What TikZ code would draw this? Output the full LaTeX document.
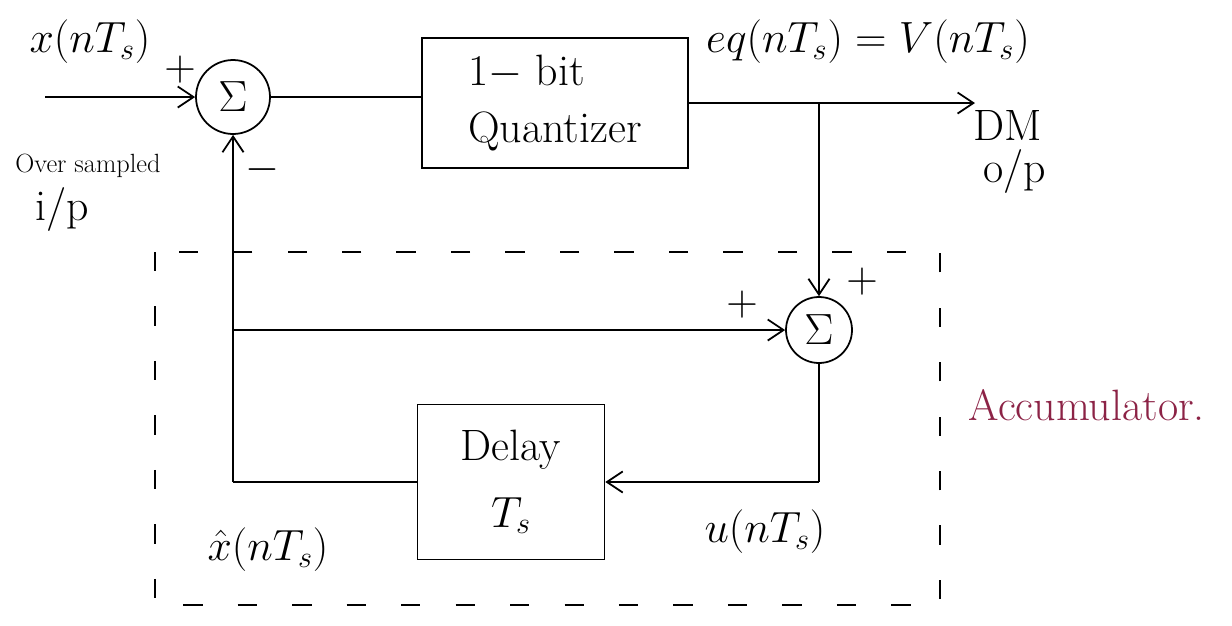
\documentclass[tikz,border=0pt]{standalone}
\usetikzlibrary{arrows.meta}
\definecolor{acccolor}{RGB}{140,35,70}
\begin{document}
\begin{tikzpicture}[x=0.02cm,y=-0.02cm, line width=1pt,
  sumnode/.style={draw,circle,minimum size=1.48cm,inner sep=0pt,font=\fontsize{24}{28}\selectfont},
  blocknode/.style={draw,rectangle,line width=1pt,font=\fontsize{25}{32}\selectfont},
  lbl/.style={font=\fontsize{25}{30}\selectfont},
  small/.style={font=\fontsize{15}{18}\selectfont},
  arr/.style={-{Straight Barb[length=9pt,width=12pt]}},
  accline/.style={dash pattern=on 11pt off 20pt,line width=0.9pt}]
\useasboundingbox (0,0) rectangle (1232,626);
% blocks
\node[sumnode] (s1) at (233,97) {$\Sigma$};
\node[blocknode,minimum width=5.32cm,minimum height=2.6cm,align=left] (q) at (555,103) {1$-$ bit\\Quantizer};
\node[sumnode,minimum size=1.32cm] (s2) at (819,330) {$\Sigma$};
\node[blocknode,minimum width=3.74cm,minimum height=3.1cm,align=center] (d) at (511,482) {Delay\\[6pt]$T_s$};
% accumulator boundary
\draw[accline] (155,252) rectangle (940,605);
% helper coordinates
\coordinate (in) at (45,97);
\coordinate (out) at (975,103);
\coordinate (br) at (s2.north |- q.east);
\coordinate (dr) at (s2.south |- d.east);
\coordinate (dl) at (s1.south |- d.west);
\coordinate (fb) at (s1.south |- s2.west);
% connectors
\draw[arr] (in) -- (s1.west);
\draw (s1.east) -- (s1.east -| q.west);
\draw[arr] (q.east) -- (out);
\draw[arr] (br) -- (s2.north);
\draw (s2.south) -- (dr);
\draw[arr] (dr) -- (d.east);
\draw (d.west) -- (dl);
\draw[arr] (dl) -- (s1.south);
\draw[arr] (fb) -- (s2.west);
% labels
\node[lbl] (lx) at (90,42) {$x(nT_s)$};
\node[lbl] (p1) at (180,70) {$+$};
\node[lbl] (m1) at (262,170) {$-$};
\node[small] (los) at (88,166) {Over sampled};
\node[lbl] (lip) at (62,210) {i/p};
\node[lbl] (leq) at (868,42) {$eq(nT_s) = V(nT_s)$};
\node[lbl] (ldm) at (1008,125) {DM};
\node[lbl] (lop) at (1015,172) {o/p};
\node[lbl] (p2) at (862,282) {$+$};
\node[lbl] (p3) at (742,305) {$+$};
\node[lbl] (lxh) at (268,550) {$\hat{x}(nT_s)$};
\node[lbl] (lu) at (765,532) {$u(nT_s)$};
\node[lbl,text=acccolor,anchor=west] (lacc) at (962,405) {Accumulator.};
\end{tikzpicture}
\end{document}
